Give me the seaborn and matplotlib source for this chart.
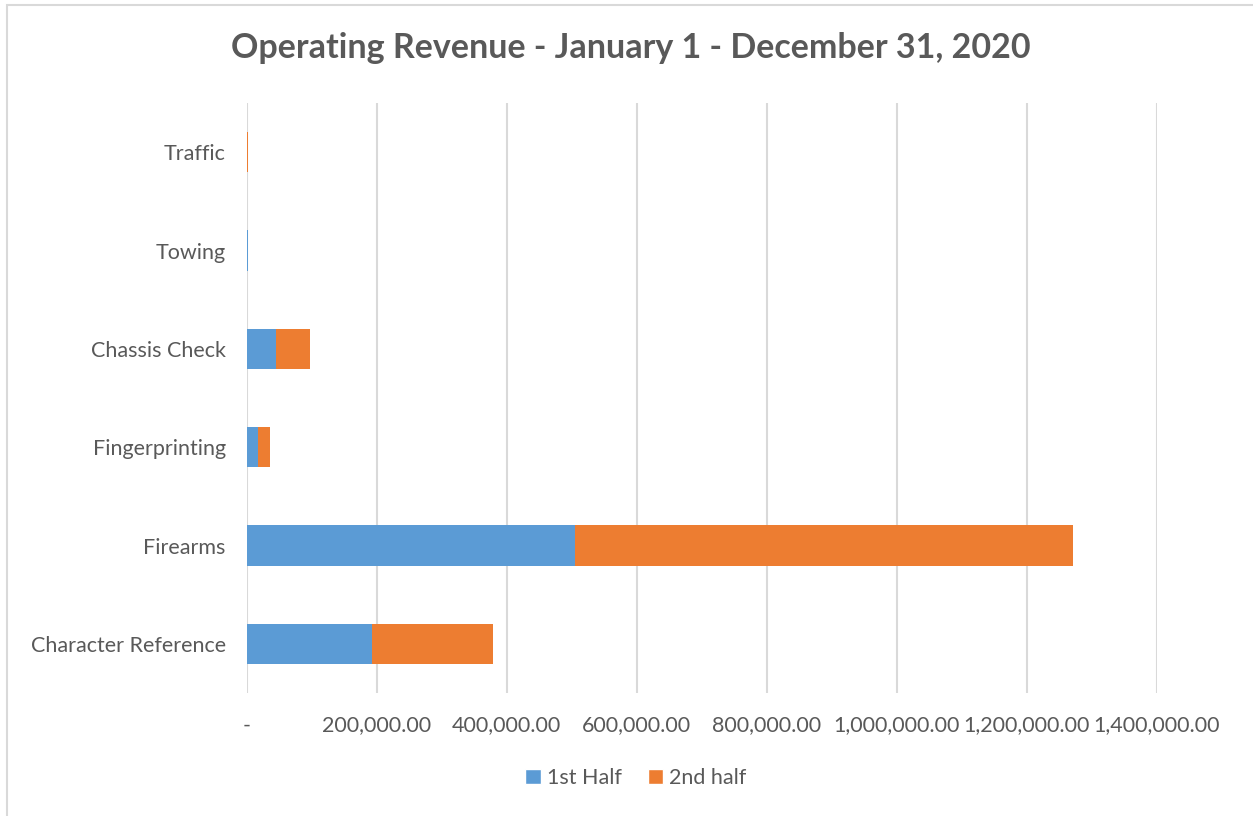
import matplotlib
matplotlib.use("Agg")
import matplotlib.pyplot as plt
from matplotlib.patches import Rectangle, Patch
from matplotlib.ticker import FuncFormatter
import seaborn as sns
import pandas as pd

# Revenue by service, first and second half of 2020
categories = ["Traffic", "Towing", "Chassis Check", "Fingerprinting",
              "Firearms", "Character Reference"]
first_half = [0, 3000, 45700, 17500, 505400, 193000]
second_half = [3000, 0, 52300, 19000, 765100, 185800]
x_ticks = [0, 200000, 400000, 600000, 800000, 1000000, 1200000, 1400000]

df = pd.DataFrame({"service": categories,
                   "first": first_half,
                   "second": second_half})
df["total"] = df["first"] + df["second"]

sns.set_theme(style="white")
plt.rcParams["font.family"] = ["Lato", "DejaVu Sans"]

blue = "#5B9BD5"
orange = "#ED7D31"
grey_text = "#595959"
grid_col = "#D9D9D9"

fig = plt.figure(figsize=(12.53, 8.16), dpi=100)
ax = fig.add_axes([246.5 / 1253, 1 - 693 / 816, (1157 - 246.5) / 1253, (693 - 103) / 816])

# stacked bars: full total in orange, first half drawn over it in blue
bar_kw = dict(order=categories, width=0.41, saturation=1, ax=ax,
              linewidth=0, edgecolor="none", errorbar=None)
sns.barplot(data=df, y="service", x="total", color=orange, zorder=3, **bar_kw)
sns.barplot(data=df, y="service", x="first", color=blue, zorder=4, **bar_kw)

ax.set_xlim(0, 1400000)
ax.set_xticks(x_ticks)
ax.xaxis.set_major_formatter(FuncFormatter(lambda v, p: "-" if v == 0 else f"{v:,.2f}"))
ax.grid(axis="x", color=grid_col, linewidth=1.5, zorder=0)
ax.set_axisbelow(True)
for s in ax.spines.values():
    s.set_visible(False)
ax.set_xlabel("")
ax.set_ylabel("")
ax.tick_params(axis="x", length=0, pad=16, labelsize=15.5, labelcolor=grey_text)
ax.tick_params(axis="y", length=0, pad=15, labelsize=15.5, labelcolor=grey_text)

fig.text(631 / 1253, 1 - 48 / 816, "Operating Revenue - January 1 - December 31, 2020",
         ha="center", va="center", fontsize=24.5, fontweight="bold", color=grey_text)

handles = [Patch(facecolor=blue, label="1st Half"), Patch(facecolor=orange, label="2nd half")]
fig.legend(handles=handles, loc="center", bbox_to_anchor=(636 / 1253, 1 - 778 / 816),
           ncol=2, frameon=False, fontsize=15.5, labelcolor=grey_text,
           handlelength=0.7, handleheight=0.7, handletextpad=0.3, columnspacing=1.2)

# chart-area frame
fig.patches.append(Rectangle((7 / 1253, -0.05), 1.2, 1 - 5 / 816 + 0.05,
                             transform=fig.transFigure, fill=False,
                             edgecolor=grid_col, linewidth=1.5, zorder=0))

fig.savefig("out.png", dpi=100)
